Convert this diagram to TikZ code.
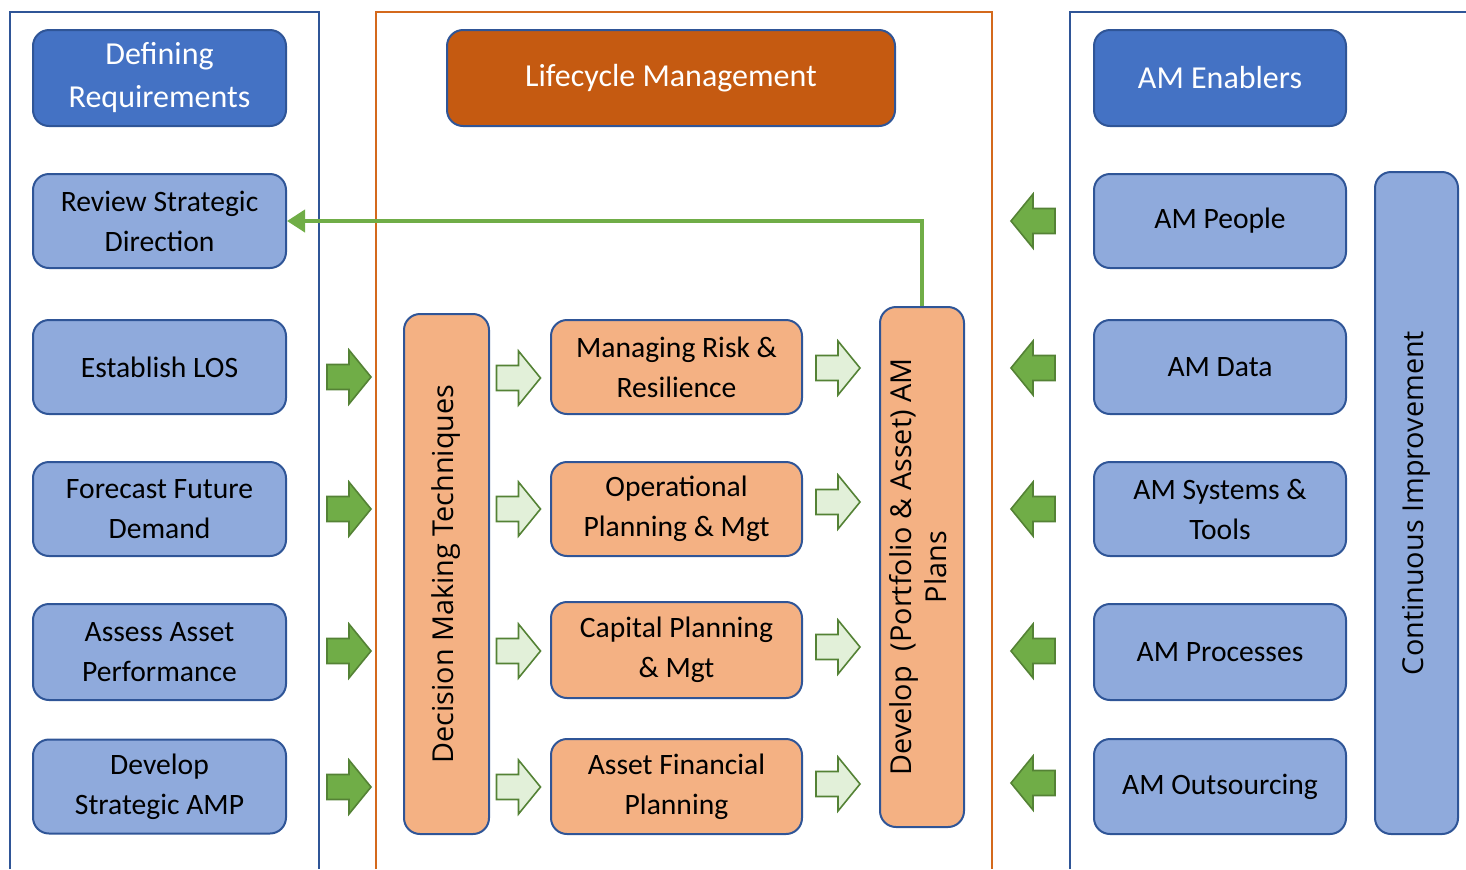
\documentclass[tikz,border=0pt]{standalone}
\usepackage{fontspec}
\setmainfont{Carlito}
\newfontfamily\osans{Open Sans}
\usetikzlibrary{arrows.meta}
\definecolor{dblue}{HTML}{4472C4}
\definecolor{lblue}{HTML}{8FAADC}
\definecolor{bord}{HTML}{2F5597}
\definecolor{dorange}{HTML}{C55A11}
\definecolor{peach}{HTML}{F4B183}
\definecolor{gfill}{HTML}{70AD47}
\definecolor{gbord}{HTML}{548235}
\definecolor{glight}{HTML}{E2F0D9}
\definecolor{frameor}{HTML}{D4691C}
\begin{document}
\begin{tikzpicture}[x=0.5pt,y=-0.5pt,
  base/.style={draw=bord, line width=1pt, rounded corners=8pt, align=center, inner sep=2pt,
     font=\fontsize{14.8}{20}\selectfont},
  hdr/.style={base, fill=dblue, text=white, minimum width=126.5pt, minimum height=48pt,
     font=\fontsize{16}{21.5}\selectfont},
  lbox/.style={base, fill=lblue, text=black, minimum width=126.5pt, minimum height=47pt},
  pbox/.style={base, fill=peach, text=black, minimum width=125.5pt, minimum height=47pt},
  vbox/.style={base, font=\osans\fontsize{14.4}{17.5}\selectfont},
  frameb/.style={draw=bord, line width=1pt},
  frameo/.style={draw=frameor, line width=1pt},
  darkarr/.style={fill=gfill, draw=gbord, line width=0.8pt},
  lightarr/.style={fill=glight, draw=gbord, line width=0.8pt},
  fb/.style={draw=gfill, line width=2pt, -{Triangle[length=9pt,width=11pt]}},
  pics/rarrow/.style={code={\draw[pic actions] (-22,-12.5) -- (0,-12.5) -- (0,-27) -- (22,0) -- (0,27) -- (0,12.5) -- (-22,12.5) -- cycle;}},
  pics/larrow/.style={code={\draw[pic actions] (22,-12.5) -- (0,-12.5) -- (0,-27) -- (-22,0) -- (0,27) -- (0,12.5) -- (22,12.5) -- cycle;}}
]
\useasboundingbox (0,0) rectangle (1466,869);
% frames
\draw[frameb] (10,869) -- (10,12) -- (319,12) -- (319,869);
\draw[frameo] (376,869) -- (376,12) -- (992,12) -- (992,869);
\draw[frameb] (1070,869) -- (1070,12) -- (1466,12);

% left column
\node[hdr] (defreq) at (159.5,78) {Defining\\Requirements};
\node[lbox] (review) at (159.5,221) {Review Strategic\\Direction};
\node[lbox] (los) at (159.5,367) {Establish LOS};
\node[lbox] (forecast) at (159.5,509) {Forecast Future\\Demand};
\node[lbox, minimum height=48pt] (assess) at (159.5,652) {Assess Asset\\Performance};
\node[lbox] (stramp) at (159.5,786.5) {Develop\\Strategic AMP};

% centre
\node[hdr, fill=dorange, minimum width=224pt] (lcm) at (671,78) {Lifecycle Management};
\node[vbox, fill=peach, minimum width=42.5pt, minimum height=260pt] (dmt) at (446.5,574)
  {\rotatebox{90}{Decision Making Techniques}};
\node[pbox] (risk) at (676.5,367) {Managing Risk \&\\Resilience};
\node[pbox] (oper) at (676.5,509) {Operational\\Planning \& Mgt};
\node[pbox, minimum height=48pt] (cap) at (676.5,650) {Capital Planning\\\& Mgt};
\node[pbox, minimum height=47.5pt] (fin) at (676.5,786.5) {Asset Financial\\Planning};
\node[vbox, fill=peach, minimum width=42pt, minimum height=260pt] (dev) at (922,567)
  {\rotatebox{90}{\begin{tabular}{@{}c@{}}Develop\ \ (Portfolio \& Asset) AM\\Plans\end{tabular}}};

% right column
\node[hdr, minimum width=126pt] (enab) at (1220,78) {AM Enablers};
\node[lbox, minimum width=126pt] (people) at (1220,221) {AM People};
\node[lbox, minimum width=126pt] (data) at (1220,367) {AM Data};
\node[lbox, minimum width=126pt] (systems) at (1220,509) {AM Systems \&\\Tools};
\node[lbox, minimum width=126pt, minimum height=48pt] (proc) at (1220,652) {AM Processes};
\node[lbox, minimum width=126pt, minimum height=47.5pt] (outs) at (1220,786.5) {AM Outsourcing};
\node[vbox, fill=lblue, minimum width=41.5pt, minimum height=331pt] (ci) at (1416.5,503)
  {\rotatebox{90}{Continuous Improvement}};

% feedback connector
\draw[fb] (dev.north) |- (review.east);

% dark arrows left -> centre
\foreach \y in {377,509,651,787} \pic[darkarr] at (349,\y) {rarrow};
% light arrows DMT -> middle
\foreach \y in {378,509,651,787} \pic[lightarr] at (518.5,\y) {rarrow};
% light arrows middle -> develop
\foreach \y in {368,502,647,784} \pic[lightarr] at (838,\y) {rarrow};
% dark arrows right -> centre
\foreach \y in {221,368,509,651,783} \pic[darkarr] at (1033,\y) {larrow};
\end{tikzpicture}
\end{document}
